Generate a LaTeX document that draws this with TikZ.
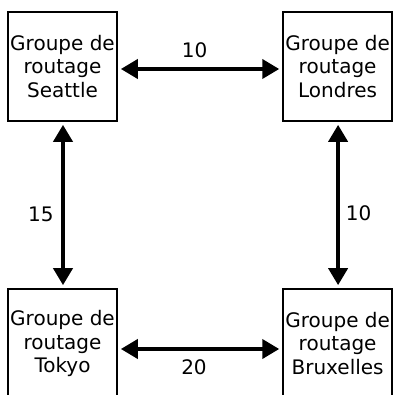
\documentclass[tikz,border=0pt]{standalone}
\usepackage{fontspec}
\setmainfont{DejaVu Sans}
\usetikzlibrary{arrows.meta}
\begin{document}
\begin{tikzpicture}[x=1pt,y=-1pt,
  grp/.style={draw=black,line width=2.2pt,minimum width=108.5pt,minimum height=108.5pt,inner sep=0pt,align=center,
    font=\fontsize{20}{23.5}\selectfont},
  lbl/.style={font=\fontsize{20}{23.5}\selectfont,inner sep=0pt},
  link/.style={line width=4pt,{Triangle[length=17pt,width=19pt]}-{Triangle[length=17pt,width=19pt]}}]
\useasboundingbox (0,0) rectangle (394,395);
\node[grp] (sea) at (62.5,66.5) {Groupe de\\routage\\Seattle};
\node[grp] (lon) at (337.6,66.5) {Groupe de\\routage\\Londres};
\node[grp] (tok) at (62.5,343.5) {Groupe de\\routage\\Tokyo};
\node[grp] (bru) at (337.6,343.5) {Groupe de\\routage\\Bruxelles};
\draw[link] ([shift={(3,2.5)}]sea.east) -- ([shift={(-3,2.5)}]lon.west);
\draw[link] ([shift={(3,5.5)}]tok.east) -- ([shift={(-3,5.5)}]bru.west);
\draw[link] ([shift={(0.5,3)}]sea.south) -- ([shift={(0.5,-3)}]tok.north);
\draw[link] ([shift={(0.5,3)}]lon.south) -- ([shift={(0.5,-3)}]bru.north);
\node[lbl] (l1) at (194.7,50) {10};
\node[lbl] (l2) at (40.8,214) {15};
\node[lbl] (l3) at (358.7,213) {10};
\node[lbl] (l4) at (194,367) {20};
\end{tikzpicture}
\end{document}
